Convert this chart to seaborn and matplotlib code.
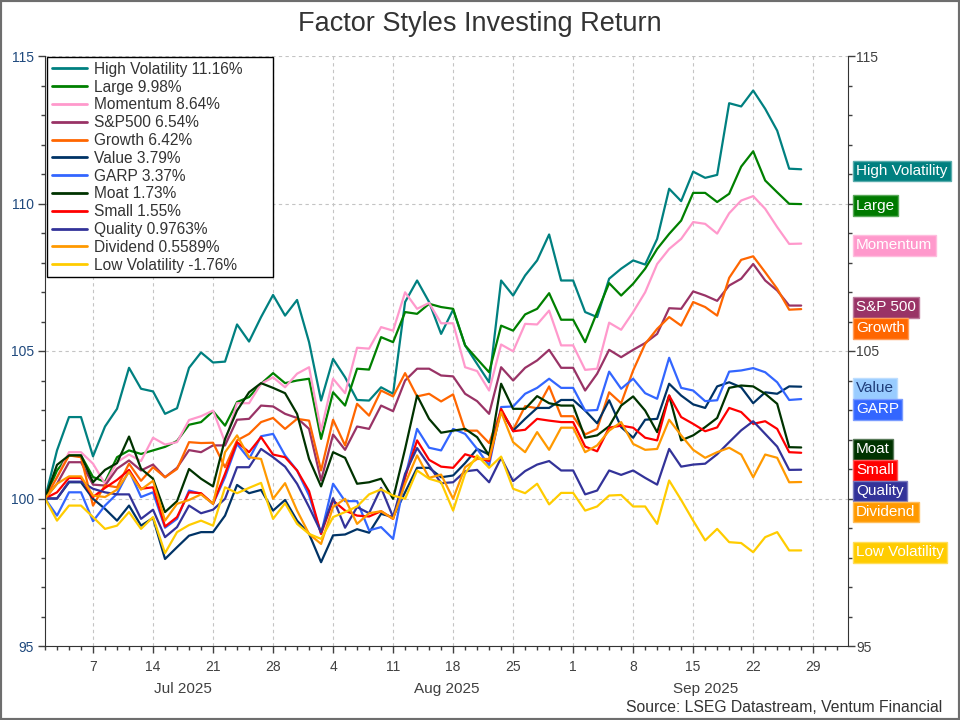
import matplotlib
matplotlib.use("Agg")
import matplotlib.pyplot as plt
import matplotlib.transforms as mtransforms
from matplotlib.colors import to_rgb
from matplotlib.lines import Line2D
from matplotlib.patches import Rectangle
from matplotlib.ticker import FixedLocator, MultipleLocator
import numpy as np
import pandas as pd
import seaborn as sns

# business days, Jul 1 - Sep 26 2025 (holidays carry the previous close)
dates = pd.bdate_range("2025-07-01", "2025-09-26")
axis_days = pd.bdate_range("2025-07-01", "2025-10-03")

series_names = ["High Volatility", "Large", "Momentum", "S&P500", "Growth", "Value",
                "GARP", "Moat", "Small", "Quality", "Dividend", "Low Volatility"]
legend_labels = ["High Volatility 11.16%", "Large 9.98%", "Momentum 8.64%", "S&P500 6.54%",
                 "Growth 6.42%", "Value 3.79%", "GARP 3.37%", "Moat 1.73%", "Small 1.55%",
                 "Quality 0.9763%", "Dividend 0.5589%", "Low Volatility -1.76%"]
box_labels = ["High Volatility", "Large", "Momentum", "S&P 500", "Growth", "Value",
              "GARP", "Moat", "Small", "Quality", "Dividend", "Low Volatility"]
line_colors = ["#008080", "#008000", "#ff99cc", "#993366", "#ff6600", "#003366",
               "#3366ff", "#003300", "#ff0000", "#333399", "#ff9900", "#ffcc00"]
box_colors = ["#008080", "#007a00", "#ff99cc", "#993366", "#ff6600", "#99ccff",
              "#3366ff", "#003300", "#ff0000", "#333399", "#ff9900", "#ffcc00"]
box_text_colors = ["white"] * 5 + ["#1f3d7a"] + ["white"] * 6

y_ticks = [95, 100, 105, 110, 115]
right_tick_labels = ["95", "", "105", "", "115"]  # 100 and 110 sit under the name boxes

high_vol = [100, 101.63, 102.76, 102.76, 101.43, 102.44, 103.04, 104.43, 103.72, 103.63, 102.87, 103.06, 104.43,
            104.95, 104.61, 104.64, 105.90, 105.32, 106.15, 106.90, 106.20, 106.73, 105.30, 103.32,
            104.73, 104.11, 103.34, 103.32, 103.77, 103.55, 106.66, 107.39, 106.66, 105.58, 106.40, 105.19,
            104.56, 103.94, 107.39, 106.88, 107.56, 108.07, 108.95, 107.39, 107.39, 106.32, 106.15, 107.45,
            107.79, 108.07, 107.93, 108.80, 110.50, 110.08, 111.08, 110.87, 110.97,
            113.40, 113.29, 113.83, 113.21, 112.47, 111.18, 111.16]
large = [100, 100.95, 101.46, 101.46, 100.73, 100.56, 101.40, 101.63, 101.51, 101.63, 101.75, 101.95, 102.50,
         102.59, 102.96, 102.47, 103.27, 103.44, 103.89, 104.25, 103.91, 104.00, 104.06, 102.02,
         103.60, 103.15, 104.40, 104.37, 105.47, 105.30, 106.32, 106.26, 106.60, 106.49, 106.43, 105.19,
         104.73, 104.28, 105.86, 105.69, 106.24, 106.43, 106.96, 106.06, 106.06, 105.30, 106.32, 107.30,
         106.88, 107.28, 107.79, 108.46, 108.97, 109.42, 110.36, 110.36, 110.05,
         110.33, 111.25, 111.77, 110.78, 110.38, 109.99, 109.98]
momentum = [100, 100.72, 101.57, 101.57, 101.18, 100.50, 101.23, 101.49, 101.27, 102.06, 101.83, 101.91, 102.66,
            102.79, 102.98, 101.91, 103.23, 103.23, 103.89, 104.11, 103.77, 104.23, 104.45, 102.30,
            104.06, 103.57, 105.11, 105.08, 105.81, 105.69, 106.99, 106.43, 106.63, 105.94, 105.94, 104.45,
            104.32, 103.66, 105.22, 104.99, 105.92, 105.90, 106.37, 105.19, 105.19, 104.36, 104.40, 105.96,
            105.72, 106.32, 106.99, 107.95, 108.46, 108.80, 109.37, 109.31, 108.98,
            109.67, 110.10, 110.25, 109.82, 109.20, 108.63, 108.64]
sp500 = [100, 100.50, 101.23, 101.23, 100.47, 100.44, 101.01, 101.29, 100.95, 101.15, 100.72, 101.04, 101.64,
         101.57, 101.80, 101.80, 102.67, 102.70, 103.15, 103.12, 102.87, 102.73, 102.36, 100.61,
         102.17, 101.65, 102.44, 102.36, 103.15, 102.96, 104.00, 104.40, 104.40, 104.17, 104.14, 103.55,
         103.30, 102.87, 104.45, 104.00, 104.43, 104.68, 105.04, 104.43, 104.43, 103.66, 104.23, 105.04,
         104.79, 105.04, 105.27, 105.58, 106.45, 106.43, 107.02, 106.88, 106.70,
         107.22, 107.45, 107.95, 107.39, 107.05, 106.54, 106.54]
growth = [100, 100.72, 101.46, 101.40, 99.76, 100.45, 100.38, 101.18, 100.60, 101.06, 100.72, 101.00, 101.91,
          101.88, 101.89, 101.06, 101.97, 102.19, 102.59, 102.73, 102.36, 102.70, 102.64, 100.95,
          102.67, 101.80, 103.21, 102.81, 103.66, 103.46, 104.25, 103.46, 103.55, 103.29, 103.53, 102.30,
          102.30, 101.88, 102.98, 102.33, 103.13, 103.06, 103.80, 102.79, 102.79, 102.17, 102.36, 103.60,
          103.23, 104.34, 105.24, 105.75, 106.15, 105.86, 106.66, 106.49, 106.20,
          107.48, 108.09, 108.21, 107.67, 107.11, 106.40, 106.42]
value = [100, 100.00, 100.55, 100.55, 99.99, 99.65, 99.25, 99.76, 99.08, 99.34, 97.95, 98.35, 98.74,
         98.86, 98.86, 99.42, 100.46, 100.18, 100.29, 99.59, 99.95, 99.25, 98.80, 97.84,
         98.75, 98.78, 98.96, 98.84, 99.48, 99.37, 100.21, 101.04, 101.04, 100.72, 100.78, 101.20,
         101.68, 101.49, 102.98, 102.30, 102.70, 103.07, 103.07, 103.34, 103.34, 102.98, 102.55, 103.33,
         102.42, 102.06, 102.67, 102.70, 103.89, 103.49, 103.19, 103.07, 103.80,
         103.94, 103.77, 103.23, 103.60, 103.55, 103.80, 103.79]
garp = [100, 99.42, 100.21, 100.21, 99.23, 99.76, 100.16, 100.95, 100.05, 100.21, 99.01, 99.31, 100.27,
        100.16, 99.82, 100.72, 101.85, 101.34, 102.11, 102.19, 101.46, 100.95, 100.10, 98.80,
        100.50, 99.91, 99.91, 98.92, 99.03, 98.63, 100.72, 102.36, 101.72, 101.63, 102.36, 102.19,
        101.68, 101.12, 103.10, 103.12, 103.55, 103.75, 104.06, 103.75, 103.75, 102.98, 103.00, 104.30,
        103.72, 104.06, 103.57, 103.38, 104.77, 103.75, 103.66, 103.30, 103.33,
        104.30, 104.34, 104.42, 104.28, 103.94, 103.34, 103.37]
moat = [100, 101.14, 101.46, 101.46, 100.55, 100.97, 101.20, 102.10, 101.01, 100.67, 99.54, 99.91, 101.00,
        100.67, 100.41, 102.02, 102.98, 103.60, 103.91, 103.75, 103.57, 102.87, 101.34, 100.41,
        101.57, 101.38, 100.50, 100.55, 100.67, 99.99, 101.68, 103.49, 102.70, 102.23, 102.30, 102.36,
        102.08, 101.46, 103.89, 103.04, 103.04, 103.47, 103.23, 103.15, 103.15, 102.06, 102.14, 102.45,
        103.15, 103.46, 102.98, 102.25, 103.49, 101.97, 102.14, 102.42, 102.73,
        103.75, 103.83, 103.80, 103.55, 103.21, 101.74, 101.73]
small = [100, 100.21, 100.70, 100.70, 100.05, 100.36, 100.63, 100.97, 100.33, 100.38, 99.05, 99.37, 100.21,
         100.18, 99.82, 100.84, 101.91, 101.57, 102.08, 101.49, 101.40, 100.95, 100.25, 98.80,
         99.93, 99.59, 99.42, 99.39, 99.57, 99.31, 100.72, 101.97, 101.31, 101.08, 101.04, 101.50,
         101.38, 101.27, 103.04, 102.28, 102.33, 102.70, 102.64, 102.59, 102.59, 101.76, 101.60, 102.40,
         102.47, 102.40, 102.06, 101.97, 103.49, 102.76, 102.53, 102.28, 102.41,
         103.07, 102.93, 102.53, 102.62, 102.36, 101.57, 101.55]
quality = [100, 100.00, 100.57, 100.57, 100.33, 100.21, 100.14, 100.14, 99.31, 99.62, 98.69, 99.03, 99.76,
           99.50, 99.62, 99.99, 101.06, 101.06, 101.68, 101.40, 101.08, 100.50, 99.71, 98.86,
           100.01, 99.01, 99.71, 99.50, 100.36, 99.37, 100.84, 101.71, 101.12, 100.52, 100.55, 100.92,
           100.97, 100.55, 101.38, 100.59, 100.93, 101.15, 101.27, 100.95, 100.95, 100.14, 100.27, 100.95,
           100.80, 100.95, 100.70, 100.47, 101.68, 101.08, 101.15, 101.18, 101.50,
           101.91, 102.31, 102.62, 102.19, 101.76, 100.97, 100.976]
dividend = [100, 100.50, 100.75, 100.75, 100.10, 100.05, 100.30, 100.90, 100.30, 100.60, 99.25, 99.82, 99.95,
            100.14, 99.82, 101.57, 102.14, 101.40, 101.34, 99.99, 100.52, 99.59, 98.80, 98.46,
            99.71, 99.99, 99.14, 99.50, 99.57, 99.31, 100.50, 101.46, 100.70, 100.81, 99.99, 101.06,
            101.34, 101.34, 102.93, 101.91, 101.57, 102.25, 101.65, 102.40, 102.40, 101.57, 101.80, 102.30,
            102.59, 101.85, 101.65, 101.68, 102.67, 102.14, 101.65, 101.38, 101.57,
            101.72, 101.49, 100.72, 101.49, 101.38, 100.55, 100.559]
low_vol = [100, 99.25, 99.76, 99.76, 99.37, 98.97, 99.08, 99.54, 98.97, 99.37, 98.15, 98.86, 99.10,
           99.25, 99.08, 100.38, 100.18, 100.36, 100.53, 99.31, 99.84, 99.14, 98.80, 98.63,
           99.37, 99.54, 99.73, 100.14, 100.31, 100.10, 99.99, 100.95, 100.67, 100.55, 99.59, 100.84,
           101.46, 101.04, 101.42, 100.33, 100.18, 100.50, 99.80, 100.19, 100.19, 99.59, 99.73, 100.10,
           100.12, 99.73, 99.73, 99.14, 100.61, 99.95, 99.25, 98.58, 98.97,
           98.52, 98.49, 98.18, 98.69, 98.86, 98.24, 98.24]

all_series = [high_vol, large, momentum, sp500, growth, value,
              garp, moat, small, quality, dividend, low_vol]


def _tint(color, amount=0.35):
    r, g, b = to_rgb(color)
    return (r + (1 - r) * amount, g + (1 - g) * amount, b + (1 - b) * amount)


df = pd.concat(
    [pd.DataFrame({"day": np.arange(len(dates)), "value": vals, "series": name})
     for name, vals in zip(series_names, all_series)],
    ignore_index=True,
)

sns.set_style("ticks")
plt.rcParams["font.family"] = ["Liberation Sans", "DejaVu Sans"]

fig = plt.figure(figsize=(9.6, 7.2), dpi=100)
ax = fig.add_axes([45 / 960, 74 / 720, 803 / 960, 590 / 720])

sns.lineplot(data=df, x="day", y="value", hue="series", hue_order=series_names,
             palette=dict(zip(series_names, line_colors)), linewidth=1.6,
             legend=False, ax=ax)

ax.set_xlim(0, 66.9)
ax.set_ylim(95, 115)
ax.set_xlabel("")
ax.set_ylabel("")

# x axis: a tick per business day, labels on Mondays
mondays = [i for i, d in enumerate(axis_days) if d.weekday() == 0]
ax.xaxis.set_major_locator(FixedLocator(mondays))
ax.set_xticklabels([str(axis_days[i].day) for i in mondays])
ax.xaxis.set_minor_locator(FixedLocator(range(len(axis_days))))

month_tf = mtransforms.blended_transform_factory(ax.transData, ax.transAxes)
months = axis_days.to_period("M")
for m in ["2025-07", "2025-08", "2025-09"]:
    idx = np.where(months == pd.Period(m))[0]
    mid = (idx[0] + idx[-1] + 1) / 2
    ax.text(mid, -0.073, pd.Period(m).strftime("%b %Y"), transform=month_tf,
            ha="center", va="center", fontsize=11, color="#404040")

ax.set_yticks(y_ticks)
ax.yaxis.set_minor_locator(MultipleLocator(1))
ax.grid(True, which="major", linestyle=(0, (3, 3)), color="#c4c4c4", linewidth=0.8)
ax.set_axisbelow(True)

ax.tick_params(axis="both", which="major", direction="out", length=5, width=1,
               color="#404040", labelsize=10, labelcolor="#404040")
ax.tick_params(axis="both", which="minor", direction="out", length=3, width=1, color="#404040")
ax.tick_params(axis="y", labelcolor="#1f497d", pad=3)
ax.tick_params(axis="x", pad=5)
for side in ["top", "right"]:
    ax.spines[side].set_visible(False)
for side in ["left", "bottom"]:
    ax.spines[side].set_color("#333333")

ax2 = ax.twinx()
ax2.set_ylim(95, 115)
ax2.set_yticks(y_ticks)
ax2.set_yticklabels(right_tick_labels)
ax2.yaxis.set_minor_locator(MultipleLocator(1))
ax2.tick_params(axis="y", which="major", direction="out", length=5, width=1,
                color="#404040", labelsize=10, labelcolor="#404040", pad=1)
ax2.tick_params(axis="y", which="minor", direction="out", length=3, width=1, color="#404040")
for side in ["top", "left", "bottom"]:
    ax2.spines[side].set_visible(False)
ax2.spines["right"].set_color("#333333")

handles = [Line2D([0], [0], color=c, lw=2) for c in line_colors]
leg = ax.legend(handles, legend_labels, loc="upper left", mode="expand",
                bbox_to_anchor=(0.0025, 0.0, 0.282, 0.998),
                frameon=True, fancybox=False, edgecolor="black", framealpha=1,
                fontsize=11.2, labelspacing=0.18, handlelength=2.3, handletextpad=0.4,
                borderpad=0.3, borderaxespad=0)
leg.get_frame().set_linewidth(1.0)
for t in leg.get_texts():
    t.set_color("#333333")

# end-of-line name boxes, pushed apart so they do not overlap
order = np.argsort([-s[-1] for s in all_series])
gap = 0.71
prev = None
box_tf = mtransforms.blended_transform_factory(ax2.transAxes, ax2.transData)
for k in order:
    y = all_series[k][-1] - 0.06
    if prev is not None and y > prev - gap:
        y = prev - gap
    prev = y
    ax2.text(1 + 8 / 803, y, box_labels[k], transform=box_tf, ha="left", va="center",
             fontsize=11, color=box_text_colors[k], clip_on=False, zorder=6,
             bbox=dict(boxstyle="square,pad=0.22", fc=box_colors[k],
                       ec=_tint(box_colors[k]), lw=1))

fig.text(0.5, 0.966, "Factor Styles Investing Return", ha="center", va="center",
         fontsize=19.5, color="#333333")
fig.text(0.982, 0.018, "Source: LSEG Datastream, Ventum Financial", ha="right", va="center",
         fontsize=11.3, color="#333333")
fig.patches.append(Rectangle((0, 0), 1, 1, transform=fig.transFigure, fill=False,
                             ec="#6e6e6e", lw=3))

fig.savefig("out.png", dpi=100)
